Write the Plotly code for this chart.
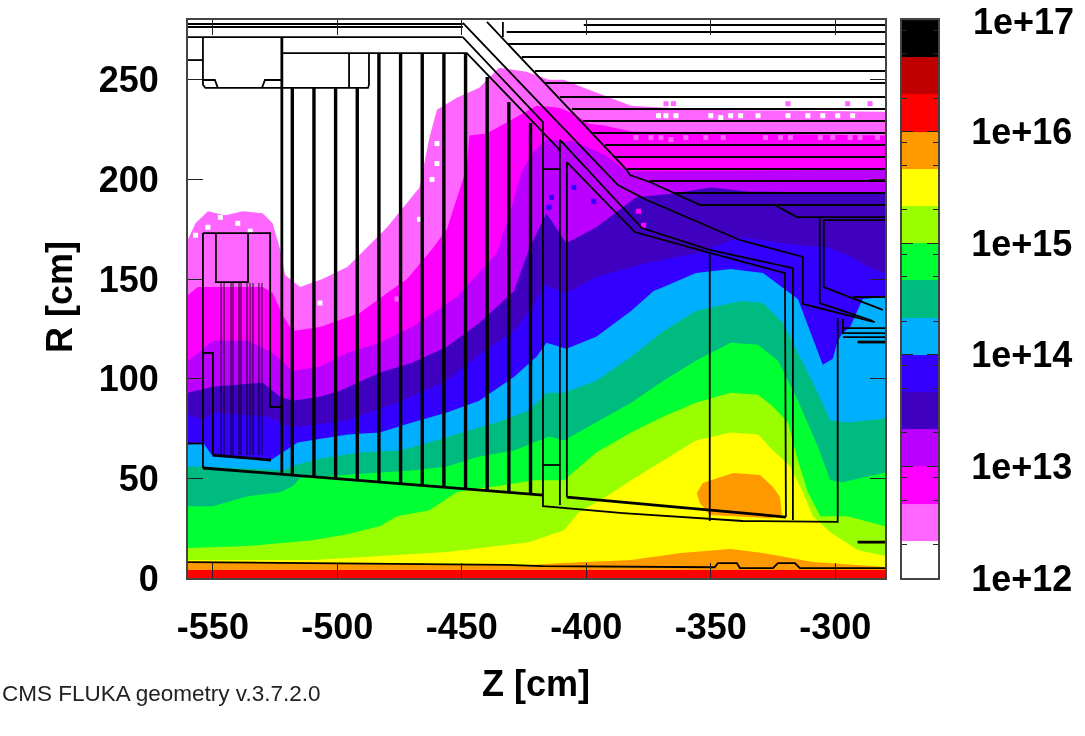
import plotly.graph_objects as go

W, H = 1085, 736
FONT = "Liberation Sans"

# ---------- flux level boundaries: upper R [cm] of each colour as function of Z [cm] ----------
PINK_Z = [-560,-557,-552,-545,-538,-530,-526,-523,-521,-515,-506,-496,-480,-467,-463,-460,-452,-443,-435,-424,-415,-409,-401,-382,-354,-280]
PINK_R = [170,178,184,182,184,183,178,165,152,146,150,156,176,196,221,235,241,246,256,254,250,250,246,237,235,234]
MAGENTA_Z = [-560,-556,-530,-526,-522,-518,-507,-491,-480,-472,-462,-456,-448,-447,-440,-430,-420,-411,-405,-399,-393,-382,-280]
MAGENTA_R = [142,146,146,143,132,124,126,133,143,150,165,175,206,222,223,230,237,236,233,228,227,224,222]
PURPLE_Z = [-560,-550,-536,-526,-518,-507,-496,-483,-470,-456,-452,-436,-430,-426,-421,-416,-405,-392,-386,-382,-280]
PURPLE_R = [109,119,119,113,104,106,113,118,126,138,141,163,186,204,214,220,219,212,206,204,205]
INDIGO_Z = [-560,-550,-530,-523,-518,-507,-499,-483,-470,-456,-443,-429,-423,-416,-408,-396,-380,-365,-350,-335,-280]
INDIGO_R = [93,96,98,91,89,91,94,103,108,116,128,144,165,183,168,176,191,193,196,194,193]
BLUE_Z = [-560,-554,-550,-528,-520,-515,-496,-476,-456,-443,-429,-421,-417,-408,-396,-376,-356,-338,-315,-303,-295,-285,-280]
BLUE_R = [82,79,83,81,76,76,79,88,99,112,124,137,147,143,151,158,163,171,167,166,162,155,153]
CYAN_Z = [-560,-554,-550,-527,-522,-516,-496,-483,-470,-456,-443,-429,-420,-416,-408,-396,-382,-373,-369,-356,-342,-329,-315,-310,-305,-301,-299,-297,-294,-289,-280]
CYAN_R = [67,68,61,59,63,68,72,73,78,83,89,101,111,118,115,121,134,144,146,153,155,153,140,123,107,110,119,123,126,140,141]
TEAL_Z = [-560,-554,-522,-516,-507,-491,-475,-463,-450,-436,-423,-416,-409,-396,-382,-369,-356,-338,-329,-321,-315,-307,-302,-295,-280]
TEAL_R = [56,56,54,57,60,63,64,68,73,78,84,93,93,99,111,124,134,139,138,128,113,93,79,78,80]
GREEN_Z = [-560,-550,-536,-523,-518,-515,-483,-470,-456,-443,-429,-415,-409,-396,-382,-369,-356,-342,-331,-323,-315,-307,-302,-297,-280]
GREEN_R = [36,36,41,43,46,50,53,54,56,61,64,71,69,78,88,99,109,118,117,109,89,66,49,48,53]
LIME_Z = [-560,-536,-510,-496,-483,-476,-463,-452,-448,-443,-436,-421,-409,-396,-382,-369,-356,-342,-331,-325,-319,-315,-311,-306,-295,-280]
LIME_R = [15,16,19,22,26,31,34,43,44,45,46,49,49,63,73,81,88,93,92,86,78,59,43,31,31,26]
YELLOW_Z = [-560,-510,-483,-456,-436,-423,-409,-403,-393,-382,-369,-356,-342,-331,-325,-318,-313,-309,-302,-291,-280]
YELLOW_R = [9,9,11,13,16,18,24,33,40,49,59,69,73,72,64,56,43,31,23,14,11]
ORANGE_Z = [-560,-480,-423,-409,-382,-362,-342,-329,-309,-280]
ORANGE_R = [8,7.5,6.5,7.5,9,12.5,14.5,12.5,8,5.5]
RED_Z = [-560,-280]
RED_R = [4,4]
LUMP_Z = [-355.6,-353.2,-341,-330.2,-325,-322.2,-321.4,-326,-350.4,-354.4]
LUMP_R = [42.6,47.7,52.7,51.7,45.7,40.6,31.6,30,31.6,37.6]

# isolated low-statistics cells of another colour
WHITE_CELL_Z = [-547,-540,-557,-552,-535,-460,-460,-462,-467,-507,-371,-368,-364,-350,-346,-342,-338,-331,-319,-311,-305,-299,-293]
WHITE_CELL_R = [181,178,172,176,174,218,208,200,180,138,232,232,232,232,231,232,232,232,232,232,232,232,232]
PINK_CELL_Z = [-380,-374,-370,-366,-360,-352,-345,-328,-322,-318,-306,-301,-294,-290,-283,-368,-365,-319,-295,-286,-506,-515,-476]
PINK_CELL_R = [221,221,221,220,221,221,221,221,221,221,221,221,221,221,221,238,238,238,238,238,128,128,140]
INDIGO_CELL_Z = [-415,-397,-414,-405]
INDIGO_CELL_R = [186,189,191,196]
MAGENTA_CELL_Z = [-379,-377]
MAGENTA_CELL_R = [184,177]

# ---------- colour scale ----------
SCALE_COLOURS = ["#ffffff","#ff66ff","#ff00ff","#bb00ff","#4000c0","#3300ff","#00b0ff","#00bb80",
                 "#00ff33","#99ff00","#ffff00","#ff9900","#ff0000","#c00000","#000000"]
DECADE_LABELS = ["1e+12","1e+13","1e+14","1e+15","1e+16","1e+17"]
DECADES = [1e12,1e13,1e14,1e15,1e16,1e17]
MINOR_MULT = [2,5,8]

# ---------- geometry outlines ----------
PLATE_Z = [-518.1,-509.4,-500.7,-492,-483.3,-474.6,-465.9,-457.2,-448.5,-439.8,-431.1,-422.4]
PLATE_TOP = [245.9,245.9,245.9,245.9,263.4,263.4,263.4,263.4,263.4,251.4,238.8,228.3]
PLATE_BOT = [51.7,50.7,50,49,48,47,46.4,45.7,44.7,43.9,43,42]
STRIPE_R = [274,268,261.4,254.4,248.4,241.3,235.3,229.3,223.3,217.3,211.2,205.2,199.2,193.2,187.2]
STRIPE_Z = [-432,-431.5,-425.9,-420.6,-416.6,-410.6,-405.8,-401.4,-397.3,-392.5,-388.5,-383.7,-374.5,-364.4,-354.4]
TUBE_Z = [-546.7,-545.5,-542.7,-541.9,-539.5,-538.7,-536.3,-535.1,-533.9,-531.5,-530.3]
TUBE_TOP, TUBE_BOT = 148, 61.7

THIN_LINES = [
    ([-560,-449.6],[278,278]), ([-560,-449.6],[276.5,276.5]),
    ([-401,-280],[277.5,277.5]),
    ([-554,-554,-553,-522.3],[271,247.5,245.9,245.9]),
    ([-522.3,-487.7,-487.3,-487.3],[245.9,245.9,247.4,263.4]),
    ([-495.3,-495.3],[263.4,245.9]),
    ([-554,-549.2,-548],[249.9,249.9,245.9]),
    ([-530.3,-529.1,-522.3],[245.9,249.9,249.9]),
    ([-560,-554],[259.9,259.9]),
    ([-522.3,-448,-411.4,-410.6],[263.4,263.4,215.8,214]),
    ([-449.6,-417.4,-417.4,-385.3,-337.1,-299,-299],[271.4,228.8,36.1,32.6,28.6,28.2,130.5]),
    ([-560,-449.6],[271.4,271.4]),
    ([-449.6,-387.3,-375.7,-338.3,-313,-313,-284.1],[278.5,197.2,189.7,169.6,161.1,137.5,128.4]),
    ([-410.6,-410.6,-377.7,-350.4,-317,-317],[36.6,219.8,175.6,164.6,155.5,29.1]),
    ([-407.8,-407.8,-380.5,-350.4,-320.2,-319.8],[40.6,208.7,173.6,163.1,153,30.6]),
    ([-350.4,-350.4],[163.1,28.6]),
    ([-417.4,-410.6],[205.2,205.2]), ([-417.4,-410.6],[56.7,56.7]),
    ([-439.9,-383.7,-382.5,-374.5,-354.4,-324.3,-315.4,-280],[279,204.7,202.2,198.7,187.2,187.2,181.1,181.1]),
    ([-433.5,-433.5],[279,271.4]),
    ([-306.2,-306.2,-285],[181.1,138,129]),
    ([-304.6,-304.6,-280.9],[179.6,146,134.5]),
    ([-304.6,-280],[179.6,179.6]),
    ([-296.9,-296.9,-280],[130,122.9,122.9]),
    ([-296.9,-280],[125.4,125.4]), ([-296.9,-280],[120.9,120.9]),
    ([-293,-280],[141,141]),
    ([-554,-554],[173.1,55.2]),
    ([-554,-527,-527,-522],[173.1,173.1,85.8,85.8]),
    ([-548.8,-548.8,-535.9,-535.9],[173.1,148.5,148.5,173.1]),
    ([-554,-550,-550],[112.9,112.9,61.7]),
    ([-560,-554],[67.5,67.5]),
    ([-560,-432,-417.4,-348.4,-347.1,-339.5,-338.3,-325,-323,-316.2,-314.2,-280],
     [8,6.6,6,5.4,7.5,7.5,5,5,7.5,7.5,5,5]),
]
THICK_LINES = [
    ([-522.3,-522.3],[271.4,52]),
    ([-554,-417.4],[55.2,41.6]),
    ([-550,-526.7],[61.7,59.2]),
    ([-407.8,-319.8],[40.6,30.6]),
    ([-291,-280],[118.4,118.4]),
    ([-291,-280],[18,18]),
]

fig = go.Figure()

def band(zs, rs, colour, mode="tozeroy"):
    fig.add_trace(go.Scatter(x=zs, y=rs, mode="lines", fill=mode, fillcolor=colour,
                             line=dict(width=0, color=colour), hoverinfo="skip", showlegend=False))

def cells(zs, rs, colour):
    fig.add_trace(go.Scatter(x=zs, y=rs, mode="markers", hoverinfo="skip", showlegend=False,
                             marker=dict(symbol="square", size=5, color=colour, line=dict(width=0))))

band(PINK_Z, PINK_R, SCALE_COLOURS[1])
band(MAGENTA_Z, MAGENTA_R, SCALE_COLOURS[2])
cells(WHITE_CELL_Z, WHITE_CELL_R, SCALE_COLOURS[0])
cells(PINK_CELL_Z, PINK_CELL_R, SCALE_COLOURS[1])
band(PURPLE_Z, PURPLE_R, SCALE_COLOURS[3])
band(INDIGO_Z, INDIGO_R, SCALE_COLOURS[4])
cells(INDIGO_CELL_Z, INDIGO_CELL_R, SCALE_COLOURS[5])
cells(MAGENTA_CELL_Z, MAGENTA_CELL_R, SCALE_COLOURS[2])
band(BLUE_Z, BLUE_R, SCALE_COLOURS[5])
band(CYAN_Z, CYAN_R, SCALE_COLOURS[6])
band(TEAL_Z, TEAL_R, SCALE_COLOURS[7])
band(GREEN_Z, GREEN_R, SCALE_COLOURS[8])
band(LIME_Z, LIME_R, SCALE_COLOURS[9])
band(YELLOW_Z, YELLOW_R, SCALE_COLOURS[10])
band(LUMP_Z + LUMP_Z[:1], LUMP_R + LUMP_R[:1], SCALE_COLOURS[11], "toself")
band(ORANGE_Z, ORANGE_R, SCALE_COLOURS[11])
band(RED_Z, RED_R, SCALE_COLOURS[12])

def outline(zs, rs, width, colour="black", opacity=1.0):
    fig.add_trace(go.Scatter(x=zs, y=rs, mode="lines", opacity=opacity,
                             line=dict(width=width, color=colour),
                             hoverinfo="skip", showlegend=False))

for z, rt, rb in zip(PLATE_Z, PLATE_TOP, PLATE_BOT):
    outline([z, z], [rt, rb], 3.4)
for r, z in zip(STRIPE_R, STRIPE_Z):
    outline([z, -280], [r, r], 2)
for z in TUBE_Z:
    outline([z, z], [TUBE_TOP, TUBE_BOT], 1.6, opacity=0.55)
for zs, rs in THIN_LINES:
    outline(zs, rs, 1.8)
for zs, rs in THICK_LINES:
    outline(zs, rs, 2.8)

# colour bar as a heatmap on a logarithmic axis
edges = [10 ** (12 + i / 3) for i in range(len(SCALE_COLOURS) + 1)]
n = len(SCALE_COLOURS)
scale = []
for i, c in enumerate(SCALE_COLOURS):
    scale += [[i / n, c], [(i + 1) / n, c]]
fig.add_trace(go.Heatmap(x=[0, 1], y=edges, z=[[i] for i in range(n)], xaxis="x2", yaxis="y2",
                         colorscale=scale, zmin=0, zmax=n, showscale=False, hoverinfo="skip"))

tick_font = dict(family=FONT, size=36, color="black", weight="bold")
axis_common = dict(showgrid=False, zeroline=False, showline=True, linecolor="#444", linewidth=2,
                   mirror="ticks", ticks="inside", ticklen=15, tickwidth=1.2, tickcolor="#222",
                   tickfont=tick_font)
xvals = [-550,-500,-450,-400,-350,-300]
yvals = [0,50,100,150,200,250]
minor_vals = [m * d for d in DECADES[:-1] for m in MINOR_MULT]

fig.update_layout(
    width=W, height=H, autosize=False,
    margin=dict(l=0, r=0, t=0, b=0, pad=0, autoexpand=False),
    paper_bgcolor="white", plot_bgcolor="white", showlegend=False,
    xaxis=dict(domain=[188/W, 885/W], range=[-560,-280], tickvals=xvals,
               ticktext=[str(v) for v in xvals], ticklabelstandoff=16, anchor="y", **axis_common),
    yaxis=dict(domain=[1-578/H, 1-20/H], range=[0,280], tickvals=yvals,
               ticktext=[str(v) for v in yvals], ticklabelstandoff=20, anchor="x", **axis_common),
    xaxis2=dict(domain=[902/W, 938/W], range=[0,1], showticklabels=False, showgrid=False, zeroline=False,
                showline=True, linecolor="#444", linewidth=2, mirror=True, ticks="", anchor="y2"),
    yaxis2=dict(domain=[1-578/H, 1-20/H], type="log", range=[12,17.0005], side="right", anchor="x2",
                tickvals=DECADES[:-1], ticktext=DECADE_LABELS[:-1], showgrid=False, zeroline=False,
                showline=True, linecolor="#444", linewidth=2, mirror="allticks",
                ticks="inside", ticklen=11, tickwidth=1.4, tickcolor="#222",
                minor=dict(tickvals=minor_vals, ticks="inside", ticklen=5, tickwidth=1.4, tickcolor="#222"),
                tickfont=tick_font, ticklabelstandoff=24),
    annotations=[
        dict(text=DECADE_LABELS[-1], xref="paper", yref="paper", x=971/W, y=1-22/H, showarrow=False,
             font=tick_font, xanchor="left", yanchor="middle"),
        dict(text="Z [cm]", xref="paper", yref="paper", x=536/W, y=1-683/H, showarrow=False,
             font=tick_font, xanchor="center", yanchor="middle"),
        dict(text="R [cm]", xref="paper", yref="paper", x=60/W, y=1-297/H, showarrow=False,
             font=tick_font, textangle=-90, xanchor="center", yanchor="middle"),
        dict(text="CMS FLUKA geometry v.3.7.2.0", xref="paper", yref="paper", x=0, y=1-693/H,
             showarrow=False, font=dict(family=FONT, size=22.5, color="#222"),
             xanchor="left", yanchor="middle"),
    ],
)

fig.write_html("out.html", config=dict(displayModeBar=False),
               post_script="document.body.style.margin='0';document.body.style.overflow='hidden';"
                           "document.querySelector('.plot-container').style.filter='blur(0.6px)';")
